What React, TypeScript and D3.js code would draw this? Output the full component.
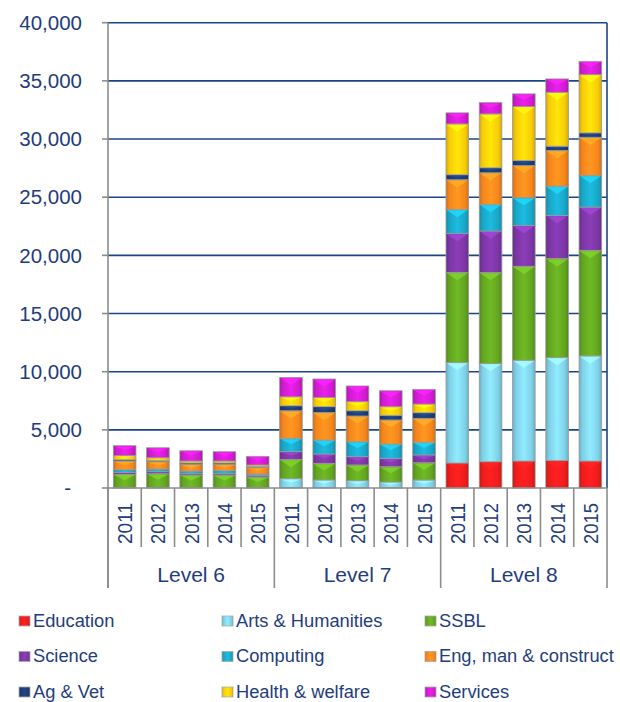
import React from "react";
import * as d3 from "d3";

const years = ["2011", "2012", "2013", "2014", "2015"];
const levels = ["Level 6", "Level 7", "Level 8"];
const seriesNames = [
  "Education",
  "Arts & Humanities",
  "SSBL",
  "Science",
  "Computing",
  "Eng, man & construct",
  "Ag & Vet",
  "Health & welfare",
  "Services",
];
const seriesColors = [
  "#ee1c1c",
  "#7fd0e6",
  "#62a420",
  "#7b36a3",
  "#19a6c6",
  "#f5851c",
  "#1d3c74",
  "#f7cb08",
  "#d01bd0",
];
// values per series: Level 6 (2011-2015), Level 7 (2011-2015), Level 8 (2011-2015)
const education = [0, 0, 0, 0, 0, 40, 40, 40, 40, 40, 2150, 2260, 2320, 2375, 2320];
const arts = [30, 30, 30, 30, 30, 760, 650, 590, 475, 650, 8650, 8440, 8670, 8845, 9040];
const ssbl = [1150, 1200, 1090, 1090, 915, 1660, 1430, 1350, 1315, 1480, 7740, 7820, 8070, 8500, 9070];
const science = [170, 170, 140, 140, 115, 660, 800, 710, 720, 670, 3350, 3570, 3515, 3710, 3720];
const computing = [225, 230, 200, 230, 140, 1150, 1200, 1290, 1230, 1090, 2060, 2290, 2375, 2520, 2720];
const eng = [745, 630, 570, 540, 550, 2370, 2380, 2210, 2070, 2060, 2550, 2720, 2775, 3060, 3285];
const agvet = [110, 90, 120, 120, 80, 430, 490, 450, 400, 480, 430, 430, 425, 375, 375];
const health = [350, 250, 170, 170, 150, 770, 800, 780, 740, 750, 4370, 4630, 4640, 4635, 5010];
const services = [860, 860, 880, 800, 740, 1670, 1580, 1350, 1370, 1260, 950, 970, 1090, 1145, 1140];
const yTicks = [0, 5000, 10000, 15000, 20000, 25000, 30000, 35000, 40000];

const seriesValues = [education, arts, ssbl, science, computing, eng, agvet, health, services];

const W = 620;
const H = 702;
const left = 108;
const right = 607;
const top = 22.7;
const bottom = 488;
const TEXT = "#1f3d7c";
const GRID = "#1c4587";
const AXIS = "#8c8c8c";
const FONT = "'Liberation Sans', Arial, sans-serif";

export default function App() {
  const cats = levels.flatMap((l) => years.map((y) => `${l}|${y}`));
  const x = d3.scaleBand<string>().domain(cats).range([left, right]).paddingInner(0.32).paddingOuter(0.16);
  const y = d3.scaleLinear().domain([0, 40000]).range([bottom, top]);
  const table = cats.map((c, i) => {
    const row: any = { cat: c };
    seriesNames.forEach((s, k) => (row[s] = seriesValues[k][i]));
    return row;
  });
  const stacked = d3.stack<any>().keys(seriesNames)(table);
  const step = x.step();
  const fmt = d3.format(",");
  const levelW = step * years.length;

  return (
    <svg width={W} height={H} style={{ position: "absolute", left: 0, top: 0, background: "#fff" }} fontFamily={FONT}>
      <defs>
        {seriesColors.map((c, i) => {
          const dark = d3.color(c)!.darker(0.5).toString();
          const light = d3.color(c)!.brighter(0.35).toString();
          return (
            <linearGradient id={`g${i}`} key={i} x1="0" x2="1" y1="0" y2="0">
              <stop offset="0" stopColor={dark} />
              <stop offset="0.15" stopColor={c} />
              <stop offset="0.5" stopColor={light} />
              <stop offset="0.85" stopColor={c} />
              <stop offset="1" stopColor={dark} />
            </linearGradient>
          );
        })}
      </defs>
      {/* gridlines */}
      {yTicks.filter((t) => t > 0).map((t) => (
        <line key={t} x1={left} x2={right} y1={y(t)} y2={y(t)} stroke={GRID} strokeWidth={1.6} />
      ))}
      <line x1={right} x2={right} y1={top} y2={bottom} stroke={GRID} strokeWidth={1.6} />
      {/* bars */}
      {stacked.map((layer, k) => (
        <g key={k}>
          {layer.map((d, i) => {
            const x0 = x(cats[i])!;
            const w = x.bandwidth();
            const y0 = y(d[1]);
            const h = y(d[0]) - y(d[1]);
            if (h <= 0.2) return null;
            const b = Math.min(7, h * 0.38);
            const light = d3.color(seriesColors[k])!.brighter(0.8).toString();
            return (
              <g key={i}>
                <rect x={x0} y={y0} width={w} height={h} fill={`url(#g${k})`} stroke="#9a9a9a" strokeWidth={0.8} />
                {h > 3 && (
                  <polygon
                    points={`${x0 + 1},${y0 + 0.8} ${x0 + w - 1},${y0 + 0.8} ${x0 + w / 2},${y0 + 0.8 + b}`}
                    fill={light}
                    opacity={0.75}
                  />
                )}
              </g>
            );
          })}
        </g>
      ))}
      {/* y axis */}
      <line x1={left} x2={left} y1={top} y2={588} stroke={AXIS} strokeWidth={1.6} />
      {yTicks.map((t) => (
        <g key={t}>
          <line x1={left - 6} x2={left} y1={y(t)} y2={y(t)} stroke={AXIS} strokeWidth={1.6} />
          <text
            x={t === 0 ? 71 : 82}
            y={y(t)}
            dy="0.35em"
            textAnchor="end"
            fontSize={20.5}
            fill={TEXT}
          >
            {t === 0 ? "-" : fmt(t)}
          </text>
        </g>
      ))}
      {/* x axis */}
      <line x1={left} x2={right} y1={bottom} y2={bottom} stroke={AXIS} strokeWidth={1.6} />
      {cats.map((c, i) => {
        const bx = left + i * step;
        const isLevel = i % years.length === 0;
        return (
          <line key={`t${i}`} x1={bx} x2={bx} y1={bottom} y2={isLevel ? 588 : 547} stroke={AXIS} strokeWidth={1.6} />
        );
      })}
      <line x1={right} x2={right} y1={bottom} y2={588} stroke={AXIS} strokeWidth={1.6} />
      {cats.map((c, i) => {
        const cx = x(c)! + x.bandwidth() / 2;
        return (
          <text
            key={`y${i}`}
            transform={`translate(${cx},503) rotate(-90)`}
            textAnchor="end"
            dy="0.36em"
            fontSize={21}
            textLength={41}
            lengthAdjust="spacingAndGlyphs"
            fill={TEXT}
          >
            {c.split("|")[1]}
          </text>
        );
      })}
      {levels.map((l, j) => (
        <text key={l} x={left + levelW * j + levelW / 2} y={582} textAnchor="middle" fontSize={21} fill={TEXT}>
          {l}
        </text>
      ))}
      {/* legend */}
      {seriesNames.map((s, k) => {
        const col = k % 3;
        const row = Math.floor(k / 3);
        const lx = [19, 222, 425][col];
        const ly = 616 + row * 35.5;
        return (
          <g key={s}>
            <rect x={lx} y={ly} width={11} height={10} fill={`url(#g${k})`} stroke="#aaa" strokeWidth={0.8} />
            <text x={lx + 14} y={ly + 10.5} fontSize={18.3} fill={TEXT}>
              {s}
            </text>
          </g>
        );
      })}
    </svg>
  );
}
